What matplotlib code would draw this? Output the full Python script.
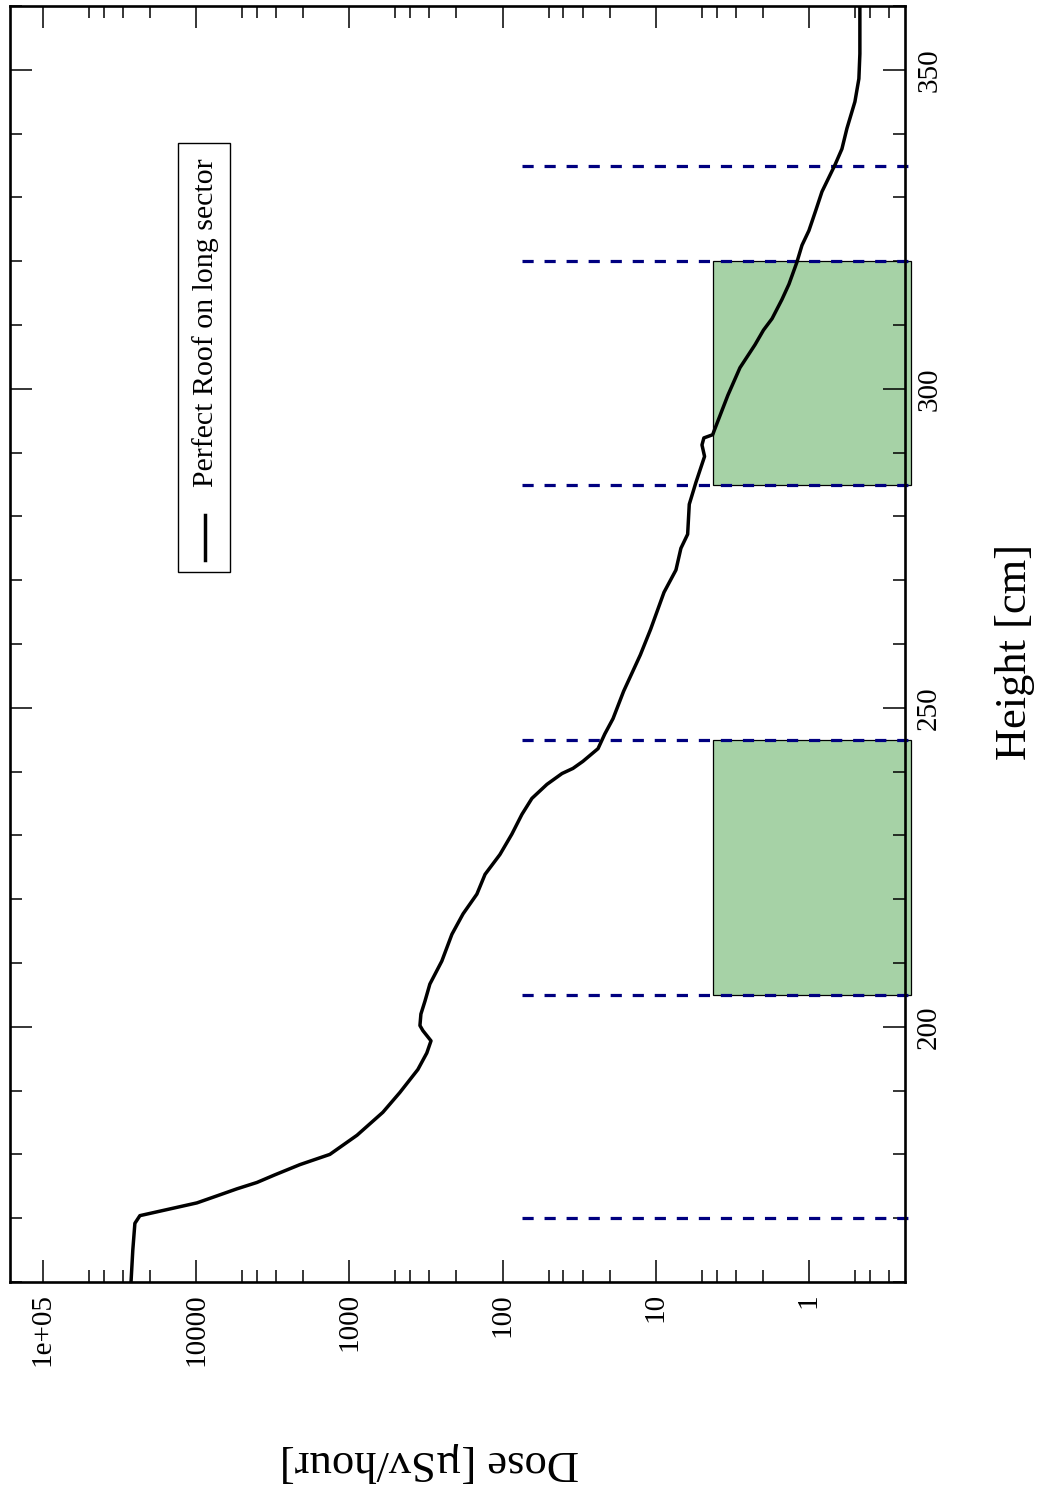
import matplotlib
matplotlib.use('Agg')
import matplotlib.pyplot as plt
from matplotlib.patches import Rectangle
from matplotlib.ticker import LogLocator, FixedLocator, FixedFormatter, MultipleLocator, NullFormatter

plt.rcParams['font.family'] = ['Liberation Serif', 'DejaVu Serif']

# dose profile: height [cm] vs dose [uSv/hour]
height_cm = [160.0, 165.0, 169.2, 170.4, 172.4, 173.5, 174.6, 175.6, 176.8, 178.4,
             180.0, 183.0, 186.6, 189.7, 193.3, 195.9, 197.8, 199.4, 200.2, 202.0,
             204.0, 206.7, 210.3, 214.5, 217.7, 220.8, 223.9, 227.0, 230.2, 233.3,
             235.8, 238.0, 239.7, 240.5, 241.6, 243.6, 245.9, 248.3, 252.6, 258.3,
             262.3, 268.1, 271.6, 275.0, 277.2, 281.9, 285.3, 289.4, 291.2, 292.3,
             292.8, 293.6, 299.0, 303.3, 306.9, 309.2, 311.0, 314.0, 316.4, 319.8,
             322.5, 324.8, 327.9, 330.9, 335.1, 337.6, 340.8, 345.0, 348.6, 352.5,
             360.0]
dose = [26600, 25900, 25100, 23280, 9880, 7310, 5420, 4010, 3060, 2100,
        1340, 891, 604, 468, 357, 312, 293, 331, 346, 341,
        321, 298, 249, 214, 181, 147, 130, 104, 86.9, 74.7,
        64.3, 51.3, 40.9, 34.7, 29.9, 23.8, 21.5, 19.0, 16.2, 12.6,
        10.8, 8.83, 7.38, 6.85, 6.19, 6.04, 5.47, 4.80, 4.99, 4.85,
        4.25, 4.13, 3.38, 2.82, 2.25, 1.98, 1.74, 1.50, 1.35, 1.20,
        1.11, 1.00, 0.904, 0.822, 0.676, 0.609, 0.565, 0.501, 0.472, 0.465,
        0.465]

# shielded zones (height ranges) and boundary markers
zones = [(205, 245), (285, 320)]
boundaries = [170, 205, 245, 285, 320, 335]
zone_dose_top = 4.25
marker_dose_top = 75
edge_dose = 0.215

dose_ticks = [1e5, 1e4, 1e3, 100, 10, 1]
dose_tick_labels = ['1e+05', '10000', '1000', '100', '10', '1']
height_ticks = [200, 250, 300, 350]

fig = plt.figure(figsize=(10.45, 14.87), dpi=100)
ax = fig.add_axes([10 / 1045, 205 / 1487, 895 / 1045, 1276 / 1487])

for h0, h1 in zones:
    ax.add_patch(Rectangle((edge_dose, h0), zone_dose_top - edge_dose, h1 - h0,
                           facecolor='green', alpha=0.35, edgecolor='none', zorder=1, clip_on=False))
    ax.add_patch(Rectangle((edge_dose, h0), zone_dose_top - edge_dose, h1 - h0,
                           facecolor='none', edgecolor='black', lw=0.9, zorder=1.5, clip_on=False))

for h in boundaries:
    ax.plot([marker_dose_top, edge_dose], [h, h], color='#000080', lw=2.3,
            dashes=(3.5, 3.4), zorder=2, clip_on=False)

ax.plot(dose, height_cm, color='black', lw=2.5, zorder=3)

ax.set_xscale('log')
ax.set_xlim(1.64e5, 0.236)
ax.set_ylim(160, 360)

ax.xaxis.set_major_locator(FixedLocator(dose_ticks))
ax.xaxis.set_major_formatter(FixedFormatter(dose_tick_labels))
ax.xaxis.set_minor_locator(LogLocator(base=10, subs=[2, 3, 4, 5], numticks=20))
ax.xaxis.set_minor_formatter(NullFormatter())
ax.yaxis.set_major_locator(FixedLocator(height_ticks))
ax.yaxis.set_minor_locator(MultipleLocator(10))

ax.tick_params(axis='both', which='both', direction='in', top=True, bottom=True,
               left=True, right=True, labelleft=False, labelright=True,
               labelsize=21, colors='black')
ax.tick_params(which='major', length=16, width=1.1, pad=8)
ax.tick_params(which='minor', length=8.5, width=1.1)
ax.tick_params(axis='x', labelrotation=90)
ax.tick_params(axis='y', labelrotation=90)
for lbl in ax.get_yticklabels():
    lbl.set_va('center')

for sp in ax.spines.values():
    sp.set_linewidth(1.9)

# legend box drawn by hand (rotated)
ax.add_patch(Rectangle((0.1877, 0.5564), 0.0581, 0.3362, transform=ax.transAxes,
                       facecolor='white', edgecolor='black', lw=1.0, zorder=4))
ax.plot([0.2179, 0.2179], [0.5658, 0.6011], transform=ax.transAxes,
        color='black', lw=2.5, zorder=5)
ax.text(0.2190, 0.623, 'Perfect Roof on long sector', transform=ax.transAxes,
        rotation=90, ha='center', va='bottom', fontsize=21.5, zorder=5)

fig.text(1015 / 1045, 1 - 652 / 1487, 'Height [cm]', rotation=90,
         ha='center', va='center', fontsize=32)
fig.text(429 / 1045, 1 - 1462 / 1487, 'Dose [µSv/hour]', rotation=180,
         ha='center', va='center', fontsize=32)

fig.savefig('out.png', dpi=100)
